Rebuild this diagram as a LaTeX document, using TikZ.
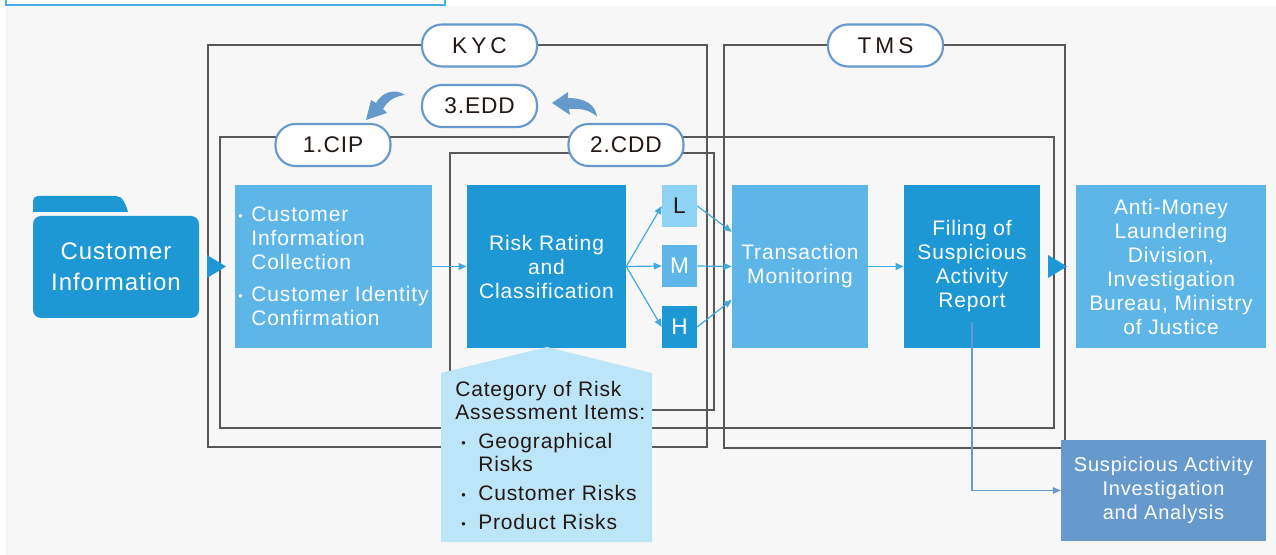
\documentclass[tikz,border=0pt]{standalone}
\usepackage{fontspec}
\setmainfont{Liberation Sans}[LetterSpace=4.0]
\usetikzlibrary{arrows.meta,calc}
\definecolor{flowdark}{RGB}{30,152,213}
\definecolor{flowmid}{RGB}{94,181,232}
\definecolor{flowlight}{RGB}{143,211,244}
\definecolor{flowpale}{RGB}{189,229,248}
\definecolor{flowline}{RGB}{64,170,224}
\definecolor{steelblue}{RGB}{102,153,204}
\definecolor{framegray}{RGB}{89,87,87}
\definecolor{canvasgray}{RGB}{247,247,247}
\definecolor{inkdark}{RGB}{35,24,21}
\definecolor{topblue}{RGB}{75,174,224}
\newcommand{\middot}{\raisebox{1pt}{\fontsize{9.5}{9.5}\selectfont\textbullet}}
\newcommand{\dotitem}{\makebox[9.75pt][l]{\middot}}
\newcommand{\riskitem}{\hspace*{4.5pt}\makebox[12.75pt][l]{\middot}}
\tikzset{
  regionframe/.style={
    draw=framegray,
    line width=0.95pt
  },
  pilltag/.style={
    draw=steelblue,
    fill=white,
    line width=1.6pt,
    rounded corners=15pt,
    minimum width=86.25pt,
    minimum height=31.5pt,
    inner sep=0pt,
    text=inkdark,
    font=\fontsize{17}{20}\selectfont
  },
  stagebox/.style={
    inner sep=0pt,
    minimum height=122.25pt,
    text=white,
    align=center,
    font=\fontsize{15.75}{18}\selectfont
  },
  levelbox/.style={
    inner sep=0pt,
    minimum width=26.25pt,
    minimum height=31.5pt,
    text=white,
    font=\fontsize{17}{20}\selectfont
  },
  flowarrow/.style={
    draw=flowline,
    line width=0.9pt,
    -{Triangle[length=6pt,width=5pt]}
  },
  reportarrow/.style={
    draw=steelblue,
    line width=0.9pt,
    -{Triangle[length=6pt,width=5pt]}
  }
}

\begin{document}
\begin{tikzpicture}[x=0.75pt,y=-0.75pt]
  \useasboundingbox (0,0) rectangle (1276,555);

  % Canvas and the cut-off caption frame at the top edge.
  \fill[canvasgray] (6,6) rectangle (1276,555);
  \draw[topblue,line width=1.4pt] (6,-10) rectangle (445,5);

  % Region frames: KYC, TMS, CIP and CDD.
  \draw[regionframe] (208,45) rectangle (707,447);
  \draw[regionframe] (724,45) rectangle (1065,448);
  \draw[regionframe] (220,137) rectangle (1054,428);
  \draw[regionframe] (450,153) rectangle (714,410);

  % Stage tags sitting on the frames.
  \node[pilltag] (kyc) at (479.5,45.5) {K\kern3pt Y\kern3pt C};
  \node[pilltag] (tms) at (885.5,45.5) {T\kern3pt M\kern3pt S};
  \node[pilltag] (edd) at (479.5,106) {3.EDD};
  \node[pilltag] (cip) at (333,145) {1.CIP};
  \node[pilltag] (cdd) at (626,145) {2.CDD};

  % Curved arrows from CDD to EDD and from EDD to CIP.
  \fill[steelblue] (597,117) .. controls (596,105) and (585,98) .. (568,98)
    -- (568,92) -- (552,103) -- (570,115) -- (569,109)
    .. controls (582,108) and (592,111) .. (597,117) -- cycle;
  \fill[steelblue] (405,95) .. controls (395,88) and (382,92) .. (376,103)
    -- (371,100) -- (366,120) -- (387,113) -- (383,109)
    .. controls (388,100) and (396,96) .. (405,95) -- cycle;

  % Customer information folder with its tab.
  \fill[flowdark] (33,212) -- (33,201) .. controls (33,198) and (35,196) .. (38,196)
    -- (116,196) .. controls (123,196) and (126,205) .. (128,212) -- cycle;
  \node[flowdark,fill,rounded corners=6pt,inner sep=0pt,
    minimum width=124.5pt,minimum height=76.5pt,text=white,align=center,
    font=\fontsize{18}{23}\selectfont] (custinfo) at (116,267)
    {Customer\\Information};
  \fill[flowdark] (207,255) -- (226,266.5) -- (207,278) -- cycle;

  % Process boxes.
  \node[stagebox,fill=flowmid,minimum width=147.75pt,align=left] (cipbox)
    at (333.5,266.5)
    {\dotitem Customer\\\hspace*{9.75pt}Information\\\hspace*{9.75pt}Collection\\[6pt]
     \dotitem Customer Identity\\\hspace*{9.75pt}Confirmation};
  \node[stagebox,fill=flowdark,minimum width=119.25pt] (risk) at (546.5,266.5)
    {Risk Rating\\and\\Classification};
  \node[levelbox,fill=flowlight,text=inkdark] (lbox) at (679.5,206) {L};
  \node[levelbox,fill=flowmid] (mbox) at (679.5,266) {M};
  \node[levelbox,fill=flowdark] (hbox) at (679.5,327) {H};
  \node[stagebox,fill=flowmid,minimum width=102pt] (trans) at (800,266.5)
    {Transaction\\Monitoring};
  \node[stagebox,fill=flowdark,minimum width=102pt] (filing) at (972,266.5)
    {Filing of\\Suspicious\\Activity\\Report};
  \fill[flowdark] (1048,255) -- (1067,266.5) -- (1048,278) -- cycle;
  \node[stagebox,fill=flowmid,minimum width=142.5pt] (aml) at (1171,266.5)
    {Anti-Money\\Laundering\\Division,\\Investigation\\Bureau, Ministry\\of Justice};
  \node[stagebox,fill=steelblue,minimum width=153.75pt,minimum height=75.75pt,
    font=\fontsize{15}{18}\selectfont] (sarbox) at (1163.5,490.5)
    {Suspicious Activity\\Investigation\\and Analysis};

  % Risk assessment items callout below the rating box.
  \fill[flowpale] (547,347) -- (652,373) -- (652,542) -- (441,542) -- (441,373) -- cycle;
  \node[anchor=north west,inner sep=0pt,align=left,text=inkdark,
    font=\fontsize{15.75}{17.25}\selectfont] (riskitems) at (455,381)
    {Category of Risk\\Assessment Items:\\[4.5pt]
     \riskitem Geographical\\
     \hspace*{17.25pt}Risks\\[4.5pt]
     \riskitem Customer Risks\\[4.5pt]
     \riskitem Product Risks};

  % Connectors between the stages.
  \draw[flowarrow] (cipbox.east) -- (risk.west);
  \draw[flowarrow] (risk.east) -- (lbox.west);
  \draw[flowarrow] (risk.east) -- (mbox.west);
  \draw[flowarrow] (risk.east) -- (hbox.west);
  \draw[flowarrow] (lbox.east) -- ([yshift=26pt]trans.west);
  \draw[flowarrow] (mbox.east) -- (trans.west);
  \draw[flowarrow] (hbox.east) -- ([yshift=-25pt]trans.west);
  \draw[flowarrow] (trans.east) -- (filing.west);

  % Report line down to the investigation box.
  \coordinate (sarstart) at ($(filing.center)+(0,56)$);
  \draw[reportarrow] (sarstart) |- (sarbox.west);

\end{tikzpicture}
\end{document}
